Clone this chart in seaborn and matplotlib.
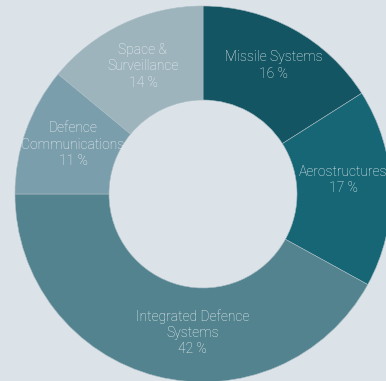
import matplotlib
matplotlib.use("Agg")
import numpy as np
import matplotlib.pyplot as plt
import seaborn as sns

# segment shares, clockwise from 12 o'clock
segments = ["Missile Systems", "Aerostructures", "Integrated Defence\nSystems",
            "Defence\nCommunications", "Space &\nSurveillance"]
shares = [16, 17, 42, 11, 14]
colours = ["#135563", "#176675", "#52838f", "#7b9eac", "#9db4bd"]
bg = "#dbe3e8"

# small label placement tweaks (angle nudge in degrees, radius)
nudge = [0, 4, 10, -1, 0]
lab_r = [0.78, 0.75, 0.74, 0.74, 0.75]

sns.set_style("white")
plt.rcParams["font.family"] = ["Roboto", "DejaVu Sans"]

fig = plt.figure(figsize=(3.86, 3.81), dpi=100, facecolor=bg)
ax = fig.add_axes([15 / 386, -1 / 381, 376 / 386, 376 / 381])
ax.set_facecolor(bg)

wedges, _ = ax.pie(shares, colors=sns.color_palette(colours), startangle=90,
                   counterclock=False, radius=1,
                   wedgeprops=dict(width=0.5, edgecolor="#a9bcc4", linewidth=0.4))

for w, s, v, d, r in zip(wedges, segments, shares, nudge, lab_r):
    ang = np.deg2rad((w.theta1 + w.theta2) / 2 + d)
    ax.text(r * np.cos(ang), r * np.sin(ang), f"{s}\n{v} %",
            ha="center", va="center", color="#eef3f5", fontsize=10,
            fontweight="light", linespacing=1.22, clip_on=False)

ax.set_xlim(-1, 1)
ax.set_ylim(-1, 1)
ax.set_aspect("equal")
ax.axis("off")
fig.savefig("out.png", dpi=100, facecolor=bg)
